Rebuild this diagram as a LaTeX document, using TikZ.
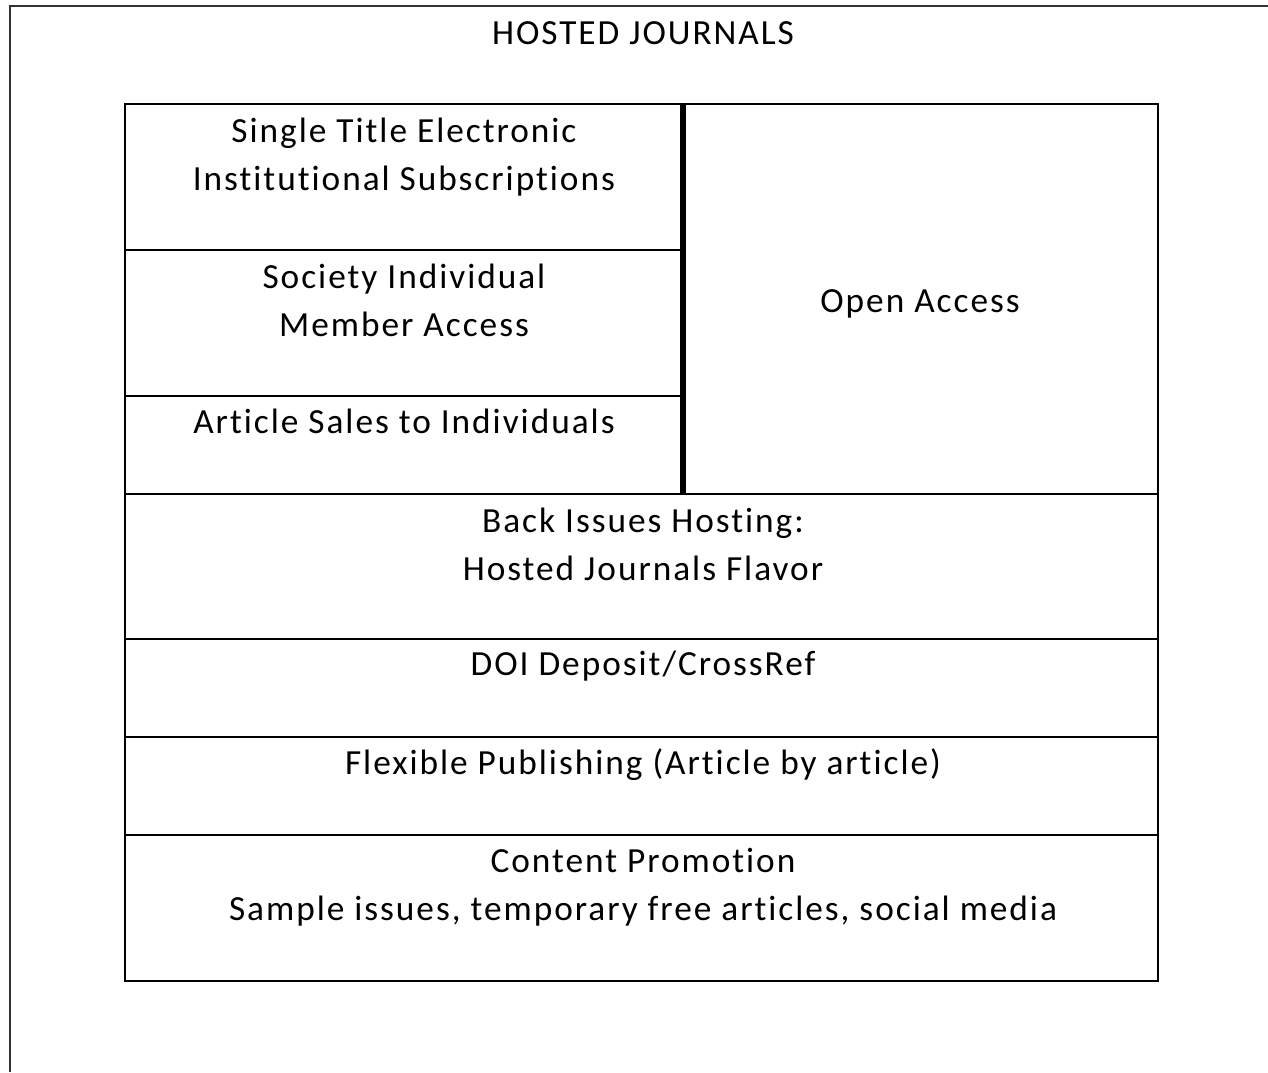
\documentclass[tikz,border=0pt]{standalone}
\usepackage{fontspec}
\setmainfont{Carlito}[LetterSpace=5.6,Ligatures=NoCommon]
\begin{document}
\begin{tikzpicture}[x=1pt,y=-1pt,
  line/.style={draw=black,line width=2pt},
  thick line/.style={draw=black,line width=6pt},
  frame/.style={draw=black!80,line width=2.5pt},
  lbl/.style={anchor=base,align=center,inner sep=0pt,font={\fontsize{35.3}{48}\selectfont}}]
\useasboundingbox[fill=white] (0,0) rectangle (1268,1072);
% outer frame (only top and left visible)
\coordinate (fbl) at (10,1072);
\coordinate (ftl) at (10,6);
\coordinate (ftr) at (1268,6);
\draw[frame] (fbl) -- (ftl) -- (ftr);
% inner box
\coordinate (tl) at (125,104);
\coordinate (br) at (1158,981);
\draw[line] (tl) rectangle (br);
% left column divisions
\coordinate (a1) at (125,250); \coordinate (a2) at (683,250);
\coordinate (b1) at (125,396); \coordinate (b2) at (683,396);
\draw[line] (a1) -- (a2);
\draw[line] (b1) -- (b2);
% full-width divisions
\coordinate (c1) at (125,494); \coordinate (c2) at (1158,494);
\coordinate (d1) at (125,639); \coordinate (d2) at (1158,639);
\coordinate (e1) at (125,737); \coordinate (e2) at (1158,737);
\coordinate (f1) at (125,835); \coordinate (f2) at (1158,835);
\draw[line] (c1) -- (c2);
\draw[line] (d1) -- (d2);
\draw[line] (e1) -- (e2);
\draw[line] (f1) -- (f2);
% thick vertical divider
\coordinate (v1) at (683,104); \coordinate (v2) at (683,494);
\draw[thick line] (v1) -- (v2);
% texts (anchor = baseline of the last line)
\node[lbl] (title) at (643,44) {HOSTED JOURNALS};
\node[lbl] (single) at (404,190) {Single Title Electronic\\Institutional Subscriptions};
\node[lbl] (society) at (404,336) {Society Individual\\Member Access};
\node[lbl] (article) at (404,433) {Article Sales to Individuals};
\node[lbl] (open) at (920,312) {Open Access};
\node[lbl] (back) at (643,580) {Back Issues Hosting:\\Hosted Journals Flavor};
\node[lbl] (doi) at (643,675) {DOI Deposit/CrossRef};
\node[lbl] (flex) at (643,774) {Flexible Publishing (Article by article)};
\node[lbl] (content) at (643,920) {Content Promotion\\Sample issues, temporary free articles, social media};
\end{tikzpicture}
\end{document}
